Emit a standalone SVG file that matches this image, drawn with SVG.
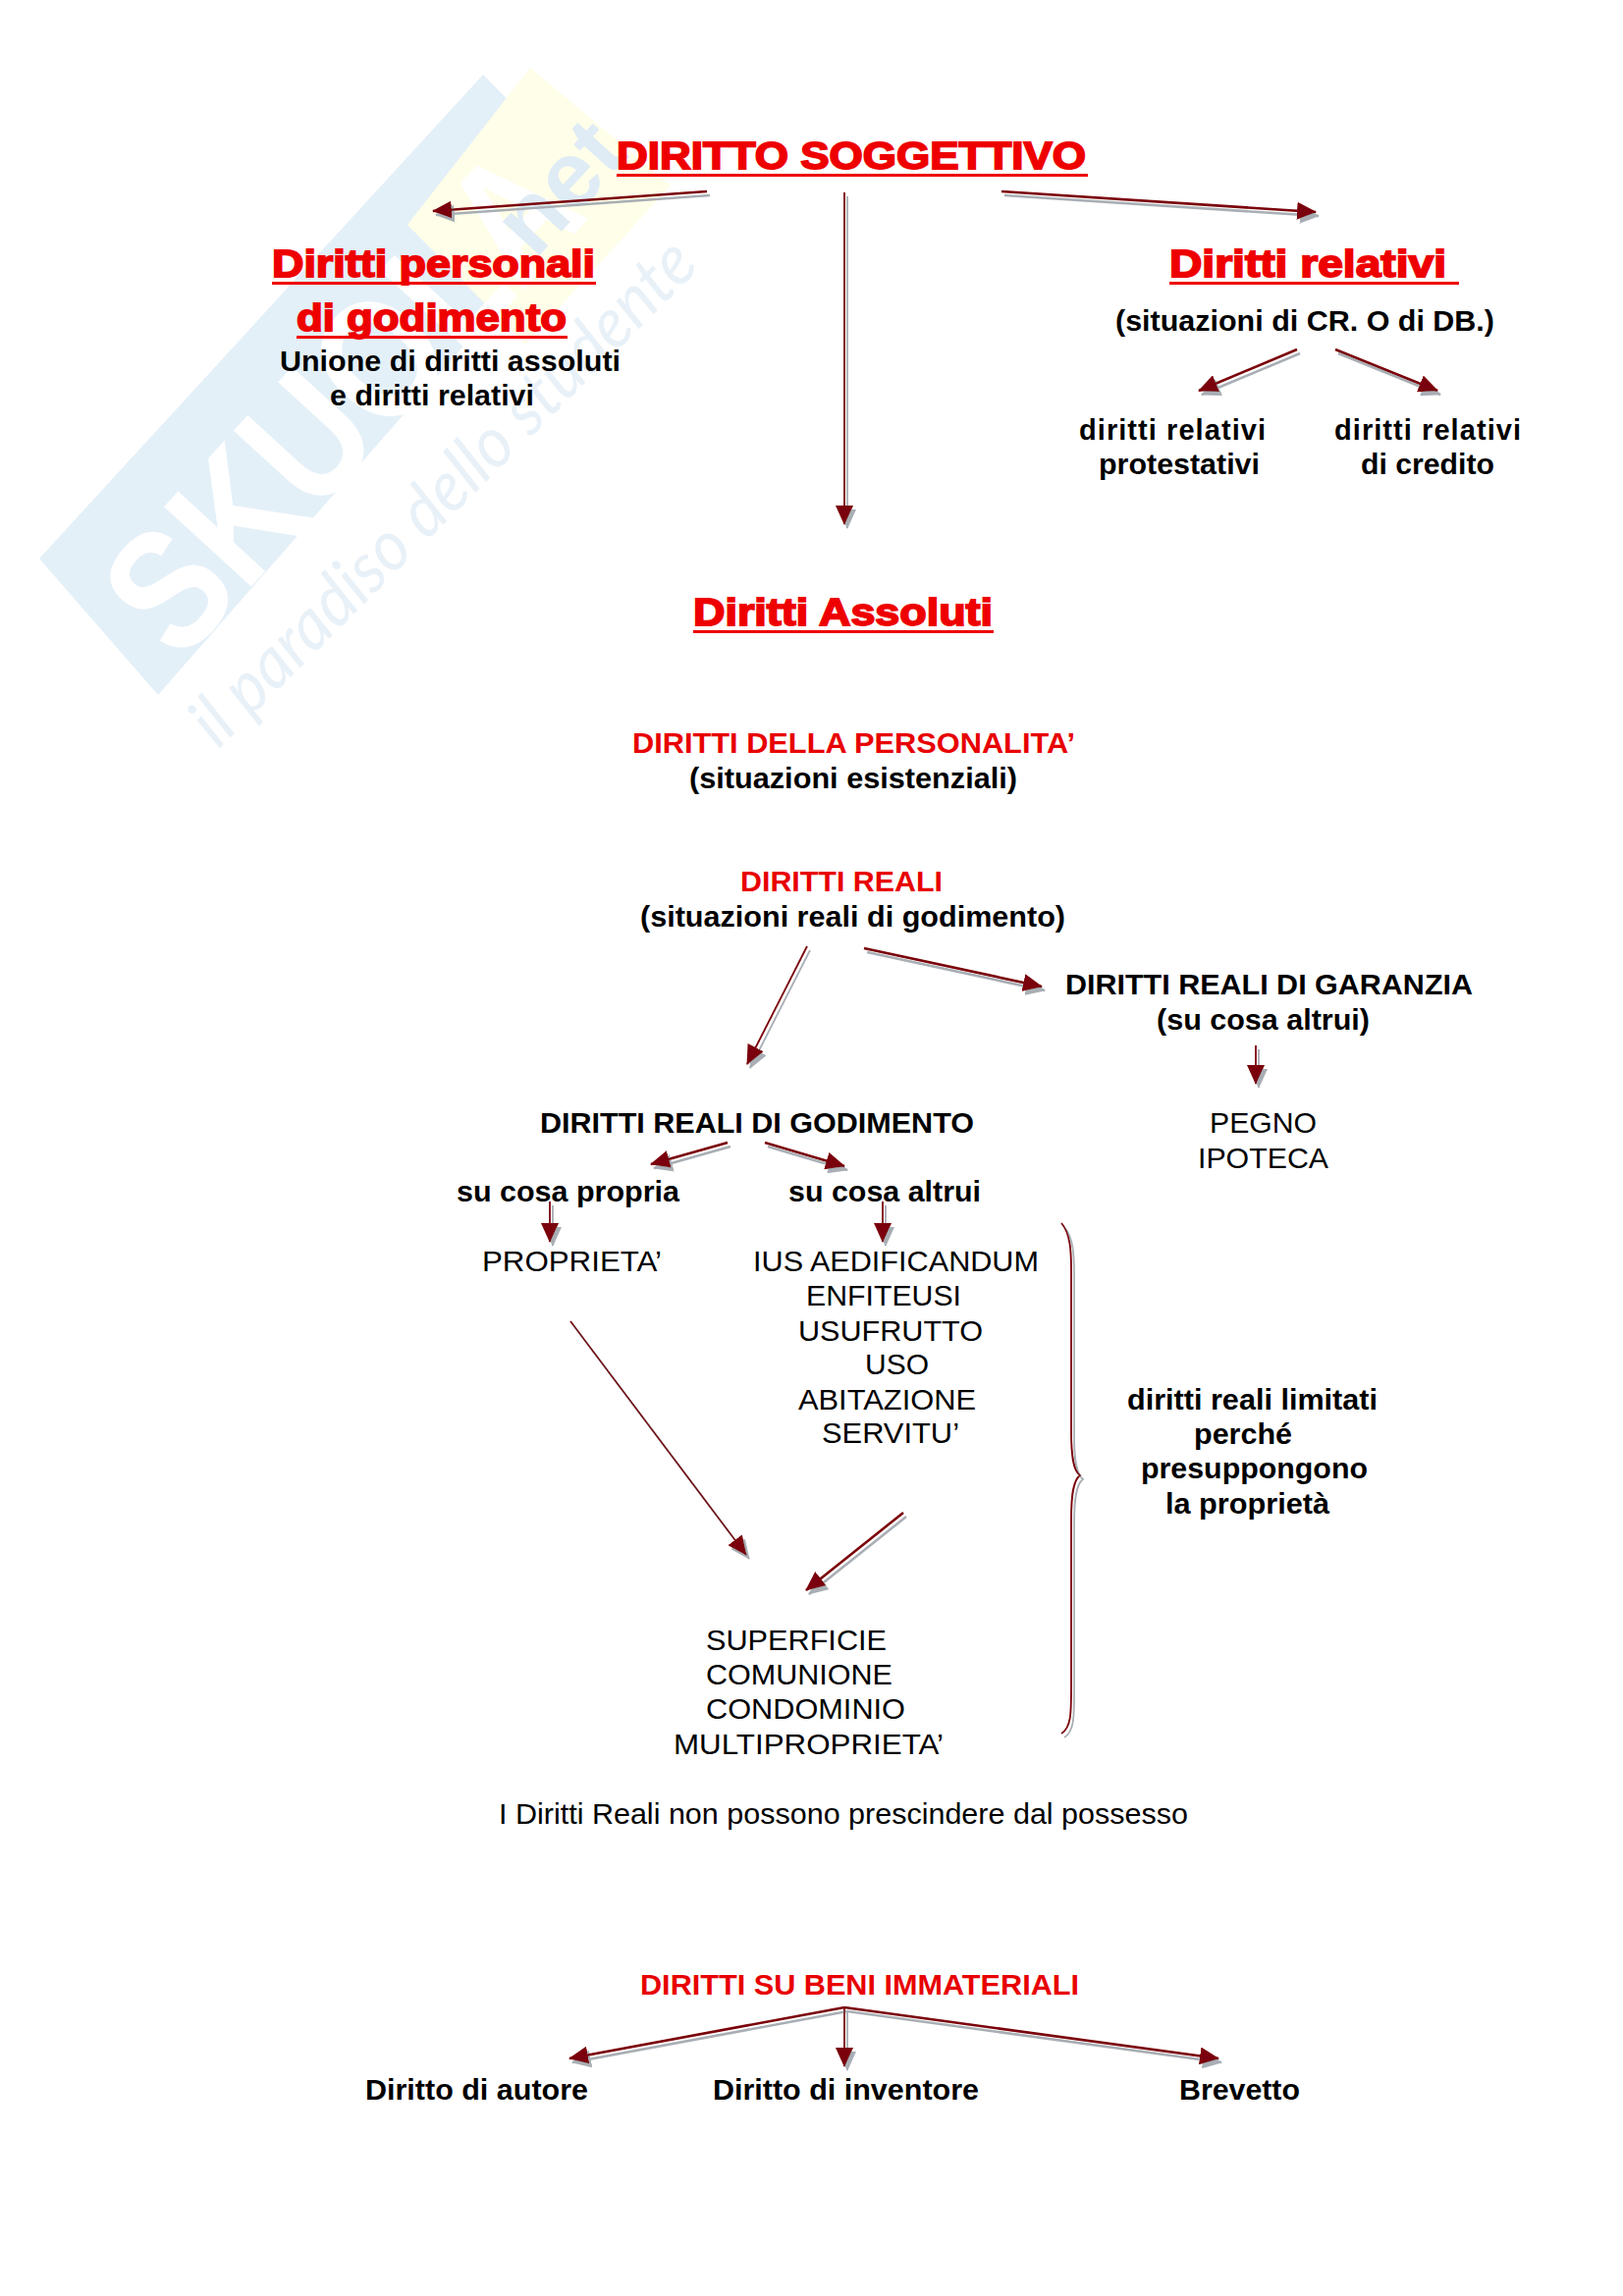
<svg xmlns="http://www.w3.org/2000/svg" width="1653" height="2339" viewBox="0 0 1653 2339">
<style>
text{font-family:"Liberation Sans",Arial,sans-serif;fill:#000;font-size:29px}
.b{font-weight:bold}
.h{font-weight:bold;fill:#ee0000;font-size:39px;stroke:#ee0000;stroke-width:1.8}
.r{font-weight:bold;fill:#e80000}
.ul{fill:#ee0000}
.a{fill:none;stroke:#7a0008;stroke-width:2.6;marker-end:url(#ah)}
.t{fill:none;stroke:#7a0008;stroke-width:1.8;marker-end:url(#ah)}
.wb{fill:#fff;font-weight:bold;font-size:175px}
.wn{fill:#dfecf5;font-weight:bold;font-size:96px}
.ws{fill:#e9f1f8;font-style:italic;font-size:72px;font-family:"Lato","Liberation Sans",sans-serif}
</style>
<defs>
<marker id="ah" markerUnits="userSpaceOnUse" markerWidth="22" markerHeight="18" refX="19" refY="9" orient="auto"><path d="M0 0L20 9L0 18Z" fill="#7a0008"/></marker>
<filter id="sh" x="-20%" y="-20%" width="140%" height="140%" filterUnits="objectBoundingBox"><feDropShadow dx="3" dy="4" stdDeviation="0.7" flood-color="#a8aeb4"/></filter>
</defs>
<rect width="1653" height="2339" fill="#fff"/>
<g id="watermark">
<polygon points="40,569 492,76 610,195 161,708" fill="#e4f0f8"/>
<polygon points="540,69 683,189 535,351 415,229" fill="#fffee8"/>
<text class="wb" transform="translate(183,677) rotate(-47.5)" textLength="620" lengthAdjust="spacingAndGlyphs">SKUOLA</text>
<text class="wn" transform="translate(545,265) rotate(-47.5)">net</text>
<text class="ws" transform="translate(222,764) rotate(-45)" textLength="695" lengthAdjust="spacingAndGlyphs">il paradiso dello studente</text>
</g>
<g id="connectors" filter="url(#sh)">
<path class="a" d="M720 195L441 215"/>
<path class="a" d="M1020 195L1340 216"/>
<path class="t" d="M860 196V534"/>
<path class="a" d="M1321 356L1221 398"/>
<path class="a" d="M1360 356L1464 398"/>
<path class="t" d="M822 964L761 1084"/>
<path class="a" d="M880 966L1061 1005"/>
<path class="a" d="M741 1164L663 1186"/>
<path class="a" d="M779 1164L860 1188"/>
<path class="t" d="M560 1224V1265"/>
<path class="t" d="M899 1224V1265"/>
<path class="t" d="M1279 1065V1104"/>
<path class="t" d="M581 1346L760 1584"/>
<path class="a" d="M920 1541L821 1620"/>
<path class="a" d="M860 2045L580 2097"/>
<path class="t" d="M860 2045V2105"/>
<path class="a" d="M860 2045L1241 2097"/>
<path fill="none" stroke="#7a0008" stroke-width="1.8" d="M1081 1246C1090 1256 1091 1274 1091 1294V1458C1091 1483 1093 1498 1100 1503C1093 1508 1091 1523 1091 1548V1720C1091 1745 1091 1760 1081 1766"/>
</g>
<g id="n-soggettivo"><text class="h" x="628" y="172" textLength="478" lengthAdjust="spacingAndGlyphs">DIRITTO SOGGETTIVO</text><rect class="ul" x="628" y="177" width="480" height="3"/></g>
<g id="n-personali"><text class="h" x="277" y="282" textLength="329" lengthAdjust="spacingAndGlyphs">Diritti personali</text><rect class="ul" x="277" y="287" width="330" height="3"/>
<text class="h" x="302" y="337" textLength="275" lengthAdjust="spacingAndGlyphs">di godimento</text><rect class="ul" x="302" y="342" width="276" height="3"/>
<text class="b" x="285" y="378" textLength="347" lengthAdjust="spacingAndGlyphs">Unione di diritti assoluti</text>
<text class="b" x="336" y="413" textLength="208" lengthAdjust="spacingAndGlyphs">e diritti relativi</text></g>
<g id="n-relativi"><text class="h" x="1191" y="282" textLength="282" lengthAdjust="spacingAndGlyphs">Diritti relativi</text><rect class="ul" x="1191" y="287" width="295" height="3"/>
<text class="b" x="1136" y="337" textLength="386" lengthAdjust="spacingAndGlyphs">(situazioni di CR. O di DB.)</text></g>
<g id="n-protestativi"><text class="b" x="1099" y="448" textLength="190" lengthAdjust="spacing">diritti  relativi</text><text class="b" x="1119" y="483" textLength="164" lengthAdjust="spacingAndGlyphs">protestativi</text></g>
<g id="n-credito"><text class="b" x="1359" y="448" textLength="190" lengthAdjust="spacing">diritti  relativi</text><text class="b" x="1386" y="483" textLength="136" lengthAdjust="spacingAndGlyphs">di credito</text></g>
<g id="n-assoluti"><text class="h" x="706" y="637" textLength="305" lengthAdjust="spacingAndGlyphs">Diritti Assoluti</text><rect class="ul" x="706" y="642" width="306" height="3"/></g>
<g id="n-personalita"><text class="r" x="644" y="767" textLength="451" lengthAdjust="spacingAndGlyphs">DIRITTI DELLA PERSONALITA’</text><text class="b" x="702" y="803" textLength="334" lengthAdjust="spacingAndGlyphs">(situazioni esistenziali)</text></g>
<g id="n-reali"><text class="r" x="754" y="908" textLength="206" lengthAdjust="spacingAndGlyphs">DIRITTI REALI</text><text class="b" x="652" y="944" textLength="433" lengthAdjust="spacingAndGlyphs">(situazioni reali di godimento)</text></g>
<g id="n-garanzia"><text class="b" x="1085" y="1013" textLength="415" lengthAdjust="spacingAndGlyphs">DIRITTI REALI DI GARANZIA</text><text class="b" x="1178" y="1049" textLength="217" lengthAdjust="spacingAndGlyphs">(su cosa altrui)</text></g>
<g id="n-pegno"><text x="1232" y="1154" textLength="109" lengthAdjust="spacingAndGlyphs">PEGNO</text><text x="1220" y="1190" textLength="133" lengthAdjust="spacingAndGlyphs">IPOTECA</text></g>
<g id="n-godimento"><text class="b" x="550" y="1154" textLength="442" lengthAdjust="spacingAndGlyphs">DIRITTI REALI DI GODIMENTO</text></g>
<g id="n-propria"><text class="b" x="465" y="1224" textLength="227" lengthAdjust="spacingAndGlyphs">su cosa propria</text></g>
<g id="n-altrui"><text class="b" x="803" y="1224" textLength="196" lengthAdjust="spacingAndGlyphs">su cosa altrui</text></g>
<g id="n-proprieta"><text x="491" y="1295" textLength="183" lengthAdjust="spacingAndGlyphs">PROPRIETA’</text></g>
<g id="n-ius"><text x="767" y="1295" textLength="291" lengthAdjust="spacingAndGlyphs">IUS AEDIFICANDUM</text>
<text x="821" y="1330" textLength="158" lengthAdjust="spacingAndGlyphs">ENFITEUSI</text>
<text x="813" y="1366" textLength="188" lengthAdjust="spacingAndGlyphs">USUFRUTTO</text>
<text x="881" y="1400" textLength="65" lengthAdjust="spacingAndGlyphs">USO</text>
<text x="813" y="1436" textLength="181" lengthAdjust="spacingAndGlyphs">ABITAZIONE</text>
<text x="837" y="1470" textLength="140" lengthAdjust="spacingAndGlyphs">SERVITU’</text></g>
<g id="n-limitati"><text class="b" x="1148" y="1436" textLength="255" lengthAdjust="spacingAndGlyphs">diritti reali limitati</text>
<text class="b" x="1216" y="1471" textLength="100" lengthAdjust="spacingAndGlyphs">perché</text>
<text class="b" x="1162" y="1506" textLength="231" lengthAdjust="spacingAndGlyphs">presuppongono</text>
<text class="b" x="1187" y="1542" textLength="167" lengthAdjust="spacingAndGlyphs">la proprietà</text></g>
<g id="n-superficie"><text x="719" y="1681" textLength="184" lengthAdjust="spacingAndGlyphs">SUPERFICIE</text>
<text x="719" y="1716" textLength="190" lengthAdjust="spacingAndGlyphs">COMUNIONE</text>
<text x="719" y="1751" textLength="203" lengthAdjust="spacingAndGlyphs">CONDOMINIO</text>
<text x="686" y="1787" textLength="275" lengthAdjust="spacingAndGlyphs">MULTIPROPRIETA’</text></g>
<g id="n-possesso"><text x="508" y="1858" textLength="702" lengthAdjust="spacingAndGlyphs">I Diritti Reali non possono prescindere dal possesso</text></g>
<g id="n-immateriali"><text class="r" x="652" y="2032" textLength="447" lengthAdjust="spacingAndGlyphs">DIRITTI SU BENI IMMATERIALI</text></g>
<g id="n-autore"><text class="b" x="372" y="2139" textLength="227" lengthAdjust="spacingAndGlyphs">Diritto di autore</text></g>
<g id="n-inventore"><text class="b" x="726" y="2139" textLength="271" lengthAdjust="spacingAndGlyphs">Diritto di inventore</text></g>
<g id="n-brevetto"><text class="b" x="1201" y="2139" textLength="123" lengthAdjust="spacingAndGlyphs">Brevetto</text></g>
</svg>
